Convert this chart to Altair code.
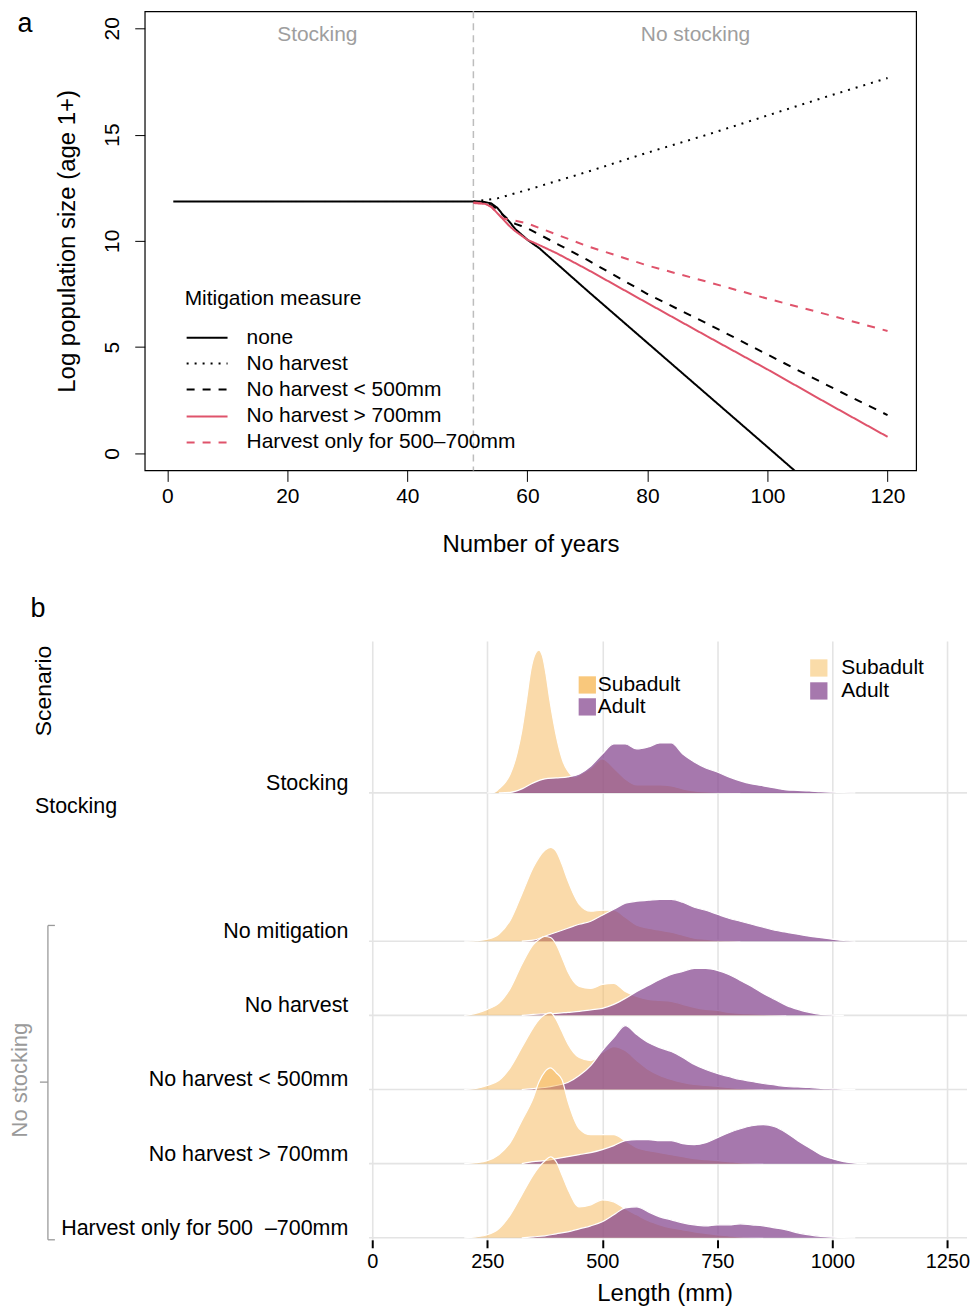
import altair as alt
import pandas as pd

FONT = "Liberation Sans"

# ---------------- Panel a: population trajectories ----------------
MEASURES = ["none", "No harvest", "No harvest < 500mm", "No harvest > 700mm",
            "Harvest only for 500–700mm"]
NONE_X = [1, 51, 52, 53, 54, 55, 56, 57, 58, 59, 60, 62, 64, 66, 68, 70, 80, 90, 100, 105]
NONE_Y = [11.85, 11.85, 11.85, 11.82, 11.76, 11.55, 11.2, 10.9, 10.55, 10.3, 10.05,
          9.65, 9.15, 8.65, 8.15, 7.65, 5.2, 2.75, 0.3, -0.93]
NOH_X = [51, 55, 60, 70, 80, 90, 100, 110, 120]
NOH_Y = [11.85, 12.0, 12.4, 13.25, 14.15, 15.0, 15.9, 16.8, 17.66]
NO500_X = [51, 53, 55, 56, 57, 58, 59, 60, 65, 70, 80, 90, 100, 110, 120]
NO500_Y = [11.85, 11.8, 11.5, 11.2, 10.95, 10.8, 10.7, 10.6, 9.85, 9.1, 7.5, 6.1, 4.65, 3.2, 1.8]
NO700_X = [51, 53, 54, 55, 56, 57, 58, 60, 62, 65, 70, 80, 90, 100, 110, 120]
NO700_Y = [11.78, 11.74, 11.6, 11.3, 11.0, 10.7, 10.45, 10.05, 9.8, 9.4, 8.65, 7.07,
           5.5, 3.95, 2.35, 0.78]
H57_X = [51, 53, 54, 55, 56, 58, 60, 70, 80, 90, 100, 110, 120]
H57_Y = [11.8, 11.75, 11.6, 11.3, 11.05, 10.95, 10.82, 9.75, 8.84, 8.07, 7.28, 6.53, 5.76]

LINE_COLORS = ["black", "black", "black", "#DF536B", "#DF536B"]
LINE_DASHES = [[1, 0], [2, 6], [8, 8], [1, 0], [8, 8]]
PHASES = ["Stocking", "No stocking"]

rec_a = []
for m, xs, ys in zip(MEASURES, [NONE_X, NOH_X, NO500_X, NO700_X, H57_X],
                     [NONE_Y, NOH_Y, NO500_Y, NO700_Y, H57_Y]):
    for x, y in zip(xs, ys):
        rec_a.append({"measure": m, "year": x, "logN": y})
df_a = pd.DataFrame(rec_a)

one = pd.DataFrame({"k": [0]})


def ptext(txt, x, y, size, color="black", angle=0, align="center"):
    mk = dict(text=txt, fontSize=size, font=FONT, color=color, align=align, baseline="middle")
    if angle:
        mk["angle"] = angle
    return alt.Chart(one).mark_text(**mk).encode(x=alt.value(x), y=alt.value(y))


def prule(x, x2, y, y2, color="#9A9A9A", width=1.3, dash=None):
    mk = dict(color=color, strokeWidth=width)
    if dash:
        mk["strokeDash"] = dash
    return alt.Chart(one).mark_rule(**mk).encode(
        x=alt.value(x), x2=alt.value(x2), y=alt.value(y), y2=alt.value(y2))


xa_scale = alt.Scale(domain=[-3.76, 124.76], nice=False, zero=False)
ya_scale = alt.Scale(domain=[-0.8, 20.8], nice=False, zero=False)
xa_axis = alt.Axis(values=[0, 20, 40, 60, 80, 100, 120], title="Number of years", grid=False,
                   domain=False, tickColor="black", tickSize=11, labelFontSize=21,
                   labelColor="black", labelFont=FONT, labelPadding=4, titleFontSize=24,
                   titleFont=FONT, titleFontWeight="normal", titleColor="black", titlePadding=26)
ya_axis = alt.Axis(values=[0, 5, 10, 15, 20], title="Log population size (age 1+)", grid=False,
                   domain=False, tickColor="black", tickSize=10, labelFontSize=21,
                   labelColor="black", labelFont=FONT, labelAngle=270, labelAlign="center",
                   labelBaseline="bottom", labelPadding=12, titleFontSize=24, titleFont=FONT,
                   titleFontWeight="normal", titleColor="black", titlePadding=22)

a_layers = []
# vertical separator at the end of stocking
a_layers.append(
    alt.Chart(pd.DataFrame({"year": [51]})).mark_rule(color="#BDBDBD", strokeDash=[7, 5], strokeWidth=1.5)
    .encode(x=alt.X("year:Q", scale=xa_scale, axis=xa_axis))
)
for m, col, dash in zip(MEASURES, LINE_COLORS, LINE_DASHES):
    a_layers.append(
        alt.Chart(df_a).transform_filter(alt.datum.measure == m)
        .mark_line(strokeWidth=2, clip=True, color=col, strokeDash=dash)
        .encode(x=alt.X("year:Q", scale=xa_scale, axis=xa_axis),
                y=alt.Y("logN:Q", scale=ya_scale, axis=ya_axis))
    )
phase_df = pd.DataFrame({"phase": PHASES, "year": [25, 88], "logN": [19.7, 19.7]})
a_layers.append(
    alt.Chart(phase_df).mark_text(fontSize=21, font=FONT, color="#9E9E9E", baseline="middle")
    .encode(x=alt.X("year:Q", scale=xa_scale), y=alt.Y("logN:Q", scale=ya_scale), text="phase:N")
)
a_layers.append(ptext("a", -120, 13, 27))

# legend of panel a
a_layers.append(ptext("Mitigation measure", 40, 288, 21, align="left"))
for m, col, dash, yy in zip(MEASURES, LINE_COLORS, LINE_DASHES, [327, 353, 379, 406, 432]):
    a_layers.append(prule(42, 83, yy, yy, color=col, width=2, dash=dash))
    a_layers.append(ptext(m, 102, yy, 21, align="left"))

panel_a = alt.layer(*a_layers).properties(
    width=773, height=460, view=alt.ViewBackground(stroke="black", strokeWidth=1.2))

# ---------------- Panel b: length distributions (ridgelines) ----------------
SCENARIOS = ["Stocking", "No mitigation", "No harvest", "No harvest < 500mm",
             "No harvest > 700mm", "Harvest only for 500\u00a0\u00a0–700mm"]
STAGES = ["Subadult", "Adult"]

MM = [200, 225, 250, 275, 300, 325, 350, 375, 400, 425, 450, 475, 500, 525, 550, 575, 600,
      625, 650, 675, 700, 725, 750, 775, 800, 825, 850, 875, 900, 925, 950, 975, 1000, 1025,
      1050, 1075, 1100]
SUB_MM = [200, 225, 250, 275, 300, 325, 350, 362.5, 375, 387.5, 400, 412.5, 425, 450, 475,
          500, 525, 550, 575, 600, 625, 650, 675, 700, 725, 750, 775, 800, 825, 850, 875, 900]

# Stocking subadults: narrow peak, read on a finer grid
STK_SUB_MM = [250, 265, 275, 290, 300, 315, 325, 335, 345, 355, 362, 370, 378, 385, 395, 405,
              415, 425, 440, 450, 475, 500, 525, 550, 575, 600, 625, 650, 675, 700, 750, 800]
STK_SUB = [0, 0.5, 4, 11, 19, 40, 62, 92, 124, 140, 143, 137, 118, 96, 69, 47,
           31, 22, 16, 18, 25, 34, 25, 14, 8, 8, 8, 7, 4, 2, 0.5, 0]
STK_ADU = [0, 0, 0, 0, 0.5, 4, 10, 14, 15, 16, 19, 27, 39, 49, 49, 44, 46, 50, 50, 39, 31,
           25, 21, 16, 12, 9, 7, 5, 3, 2.5, 2, 1.2, 0.7, 0.3, 0, 0, 0]
NOMIT_SUB = [0, 0.5, 2, 7, 21, 47, 74, 84, 91, 94, 90, 77, 61, 37, 30, 31, 31, 24, 16, 13,
             11, 9, 6, 3, 2, 1, 0.5, 0, 0, 0, 0, 0]
NOMIT_ADU = [0, 0, 0, 0, 0, 0, 1, 5, 9, 13, 17, 20, 26, 32, 38, 40, 41, 42, 42, 39, 34, 31,
             27, 23, 20, 17, 14, 11, 9, 7, 5, 3.5, 2, 0.7, 0, 0, 0]
NOH_SUB = [0, 2, 6, 12, 27, 51, 71, 76, 79, 78, 71, 58, 44, 29, 27, 31, 32, 24, 19, 16,
           15, 14, 11, 8, 6, 5, 3, 2, 1.5, 1, 0.5, 0]
NOH_ADU = [0, 0, 0, 0, 0, 0, 1, 1.5, 2, 3, 4, 5.5, 7, 11, 17, 24, 30, 36, 41, 44, 47, 47,
           45, 41, 35, 29, 22, 16, 10, 6, 3, 1, 0.3, 0, 0, 0, 0]
NO500_SUB = [0, 1, 4, 9, 22, 42, 62, 70, 75, 77, 70, 58, 46, 32, 29, 37, 43, 39, 29, 20,
             14, 10, 7, 5, 4, 3, 2, 1, 0.5, 0, 0, 0]
NO500_ADU = [0, 0, 0, 0, 0, 0, 1, 2, 4, 7, 14, 24, 39, 52, 64, 55, 47, 42, 38, 32, 25, 20,
             16, 13, 10, 8, 6, 4.5, 3, 2.5, 2, 1.2, 0.7, 0.2, 0, 0, 0]
NO700_SUB = [0, 1, 3, 9, 21, 43, 66, 82, 92, 96, 91, 84, 63, 35, 29, 29, 29, 23, 16, 13,
             11, 9, 7, 5, 4, 3, 2, 1, 0.5, 0, 0, 0]
NO700_ADU = [0, 0, 0, 0, 0, 0, 2, 3, 5, 7, 9, 11, 14, 18, 23, 24, 24, 23, 23, 20, 19, 21,
             26, 31, 35, 38, 39, 37, 31, 23, 16, 9, 5, 2, 0.5, 0, 0]
H57_SUB = [0, 1, 3, 9, 23, 43, 63, 71, 77, 81, 76, 63, 49, 31, 33, 38, 36, 29, 23, 17,
           13, 10, 8, 6, 4.5, 3, 2, 1, 0.5, 0, 0, 0]
H57_ADU = [0, 0, 0, 0, 0, 0, 1, 2, 4, 6, 9, 12, 16, 23, 30, 31, 26, 21, 18, 15, 13, 12, 13,
           13, 14, 13, 12, 10, 8, 5, 3, 1.5, 0.7, 0.2, 0, 0, 0]

DENSITIES = {
    SCENARIOS[0]: [(STK_SUB_MM, STK_SUB), (MM, STK_ADU)],
    SCENARIOS[1]: [(SUB_MM, NOMIT_SUB), (MM, NOMIT_ADU)],
    SCENARIOS[2]: [(SUB_MM, NOH_SUB), (MM, NOH_ADU)],
    SCENARIOS[3]: [(SUB_MM, NO500_SUB), (MM, NO500_ADU)],
    SCENARIOS[4]: [(SUB_MM, NO700_SUB), (MM, NO700_ADU)],
    SCENARIOS[5]: [(SUB_MM, H57_SUB), (MM, H57_ADU)],
}

ROW_PX = 74.3  # density units (read in px) per ridge row
# row index from the bottom; one empty row separates "Stocking" from the rest
n = len(SCENARIOS)
row_pos = {s: (n - 1 - i) + (1 if i == 0 else 0) for i, s in enumerate(SCENARIOS)}

SUB_COLOR = "#F6B655"
ADU_COLOR = "#803E8A"
SUB_OPAC = 0.5
ADU_OPAC = 0.7

XB_MIN, XB_MAX = -494.6, 1292.8
xb_scale = alt.Scale(domain=[XB_MIN, XB_MAX], nice=False, zero=False)
yb_scale = alt.Scale(domain=[-0.027, 8.048], nice=False, zero=False)
xb_axis = alt.Axis(values=[0, 250, 500, 750, 1000, 1250], format="d", title="Length (mm)",
                   grid=True, gridColor="#E4E4E4", gridWidth=1.6, domain=False,
                   tickColor="black", tickSize=8, tickWidth=2, labelFontSize=20, labelFont=FONT,
                   labelColor="black", labelPadding=4, titleFontSize=24, titleFont=FONT,
                   titleFontWeight="normal", titleColor="black", titleX=521, titlePadding=10)

b_layers = []
base_df = pd.DataFrame({"scenario": SCENARIOS, "pos": [row_pos[s] for s in SCENARIOS]})
b_layers.append(
    alt.Chart(base_df).mark_rule(color="#E4E4E4", strokeWidth=1.6)
    .encode(x=alt.X("start:Q", scale=xb_scale, axis=xb_axis), x2="end:Q",
            y=alt.Y("pos:Q", scale=yb_scale, axis=None))
    .transform_calculate(start="-7", end=str(XB_MAX))
)

for s in SCENARIOS:
    for stage, (mms, hs), col, op in zip(STAGES, DENSITIES[s], [SUB_COLOR, ADU_COLOR],
                                         [SUB_OPAC, ADU_OPAC]):
        # keep one zero at each end of the support
        keep = [i for i in range(len(hs))
                if hs[i] > 0 or (i + 1 < len(hs) and hs[i + 1] > 0) or (i > 0 and hs[i - 1] > 0)]
        d = pd.DataFrame({"mm": [mms[i] for i in keep], "dens": [hs[i] for i in keep]})
        d["base"] = row_pos[s]
        b_layers.append(
            alt.Chart(d).transform_calculate(top=f"datum.base + datum.dens / {ROW_PX}")
            .mark_area(color=col, opacity=op, interpolate="monotone",
                       line=alt.OverlayMarkDef(color="white", strokeWidth=1.2, opacity=1))
            .encode(x=alt.X("mm:Q", scale=xb_scale, axis=xb_axis),
                    y=alt.Y("top:Q", scale=yb_scale, axis=None), y2="base:Q")
        )

b_layers.append(
    alt.Chart(base_df).mark_text(align="right", baseline="middle", dy=-9, fontSize=21.5,
                                 font=FONT, color="black")
    .encode(x=alt.X("lx:Q", scale=xb_scale), y=alt.Y("pos:Q", scale=yb_scale), text="scenario:N")
    .transform_calculate(lx="-52")
)

b_layers += [
    ptext("b", -107, -32, 27),
    ptext("Scenario", -101, 50, 23, angle=270),
    ptext("Stocking", -110, 166, 21.5, align="left"),
    ptext("No stocking", -125, 440, 22, color="#9A9A9A", angle=270),
    prule(-97, -97, 285, 600),
    prule(-97, -90, 285, 285),
    prule(-97, -90, 600, 600),
    prule(-105, -97, 442, 442),
]

# two legends of the ridgeline panel
LEG1 = [("Subadult", "#F9C87C"), ("Adult", "#A678AD")]
LEG2 = [("Subadult", "#FADCA9"), ("Adult", "#A678AD")]
for (lab, colr), yy in zip(LEG1, [44, 66]):
    b_layers.append(alt.Chart(one).mark_square(size=300, color=colr, opacity=1)
                    .encode(x=alt.value(443.5), y=alt.value(yy)))
    b_layers.append(ptext(lab, 454, yy, 21, align="left"))
for (lab, colr), yy in zip(LEG2, [27, 50]):
    b_layers.append(alt.Chart(one).mark_square(size=300, color=colr, opacity=1)
                    .encode(x=alt.value(675.5), y=alt.value(yy)))
    b_layers.append(ptext(lab, 698, yy, 21, align="left"))

panel_b = alt.layer(*b_layers).properties(
    width=824, height=600, view=alt.ViewBackground(stroke="transparent"))

chart = alt.vconcat(panel_a, panel_b, spacing=37).properties(
    padding={"left": 0, "top": 0, "right": 0, "bottom": 0}
).configure_view(stroke="transparent")

chart.save("out.html", embed_options={"renderer": "svg", "actions": False})
